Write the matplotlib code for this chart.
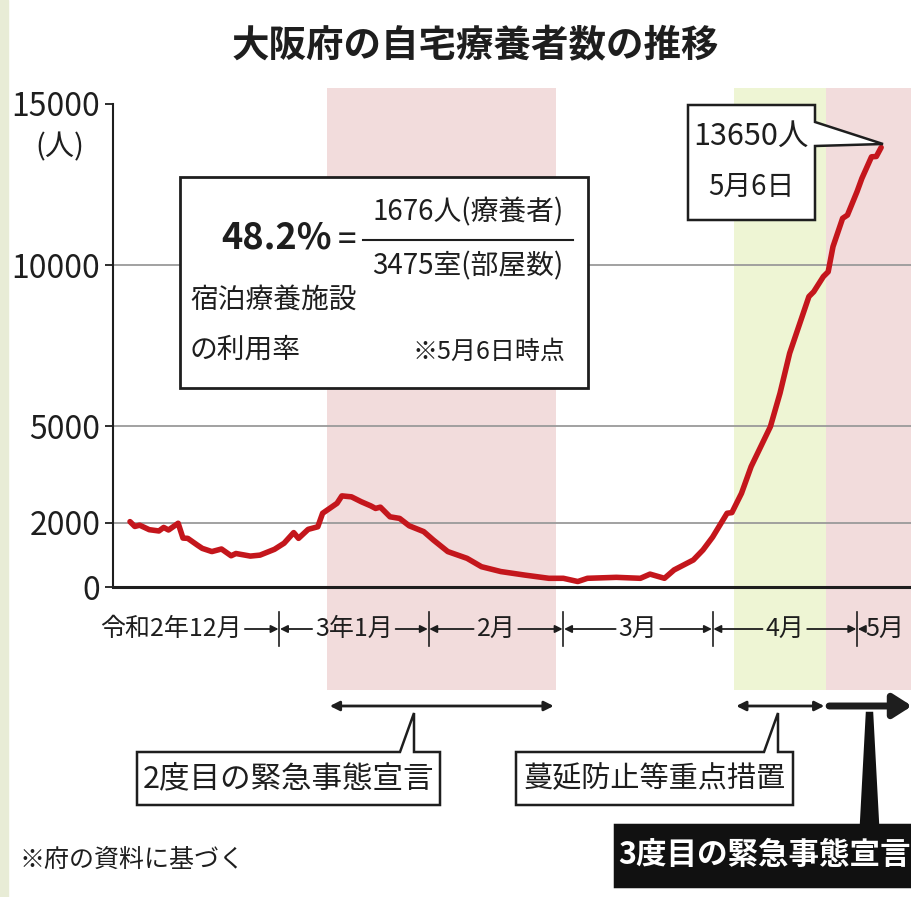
import matplotlib
matplotlib.use("Agg")
import matplotlib.pyplot as plt
import matplotlib.transforms as mtransforms
from matplotlib.patches import Rectangle, Polygon
from matplotlib.lines import Line2D

plt.rcParams['font.family'] = ['Noto Sans CJK JP', 'DejaVu Sans']

# 令和2年12月1日からの日数と自宅療養者数
days = [0, 1, 2, 4, 6, 7, 8, 10, 11, 12, 14, 15, 17, 19, 21, 22, 25, 27, 30,
        32, 34, 35, 37, 39, 40, 43, 44, 46, 48, 50, 51, 52, 54, 56, 58, 61,
        63, 66, 70, 73, 77, 82, 87, 90, 93, 95, 101, 106, 108, 111, 113, 117,
        119, 121, 124, 125, 127, 129, 132, 133, 135, 137, 141, 142, 144, 145,
        146, 148, 149, 151, 152, 154, 155, 156]
patients = [2030, 1880, 1920, 1780, 1740, 1850, 1770, 1980, 1520, 1510, 1300,
            1200, 1100, 1180, 970, 1040, 960, 990, 1170, 1360, 1690, 1510,
            1790, 1870, 2290, 2600, 2830, 2800, 2650, 2520, 2440, 2480, 2180,
            2130, 1900, 1720, 1460, 1100, 890, 630, 480, 370, 270, 270, 170,
            270, 300, 270, 400, 270, 530, 840, 1150, 1550, 2290, 2310, 2910,
            3740, 4670, 4980, 6020, 7260, 9020, 9170, 9640, 9790, 10570, 11450,
            11550, 12280, 12690, 13360, 13370, 13650]

month_starts = [0, 31, 62, 90, 121, 151]
month_labels = ["令和2年12月", "3年1月", "2月", "3月", "4月", "5月"]
y_ticks = [0, 2000, 5000, 10000, 15000]
grid_values = [2000, 5000, 10000]

emergency2 = (41, 88.5)
priority = (125.5, 144.5)
emergency3_start = 144.5

W, H = 912, 897
PINK = '#f2dcdc'
GREEN = '#eef5d4'
INK = '#1e1e1e'


def fx(x):
    return x / W


def fy(y):
    return 1 - y / H


fig = plt.figure(figsize=(W / 100, H / 100), dpi=100)
fig.add_artist(Rectangle((0, 0), fx(8), 1, transform=fig.transFigure,
                         color='#e8ecd6', zorder=0))

ax = fig.add_axes([fx(113), fy(587), fx(912) - fx(113), fy(104) - fy(587)])
ax.patch.set_alpha(0)
x_right = (912 - 130) / 4.815
ax.set_xlim(-3.53, x_right)
ax.set_ylim(0, 15000)

# 網掛け（グラフの上下にはみ出す）
ax.axvspan(*emergency2, ymin=-0.213, ymax=1.033, color=PINK, lw=0,
           zorder=0, clip_on=False)
ax.axvspan(*priority, ymin=-0.213, ymax=1.033, color=GREEN, lw=0,
           zorder=0, clip_on=False)
ax.axvspan(emergency3_start, x_right, ymin=-0.213, ymax=1.033, color=PINK,
           lw=0, zorder=0, clip_on=False)

for v in grid_values:
    ax.axhline(v, color='#9a9a9a', lw=1.3, zorder=1)

ax.plot(days, patients, color='#c4161c', lw=4, solid_joinstyle='round',
        solid_capstyle='round', zorder=3)

ax.spines['top'].set_visible(False)
ax.spines['right'].set_visible(False)
ax.spines['left'].set_linewidth(1.5)
ax.spines['bottom'].set_linewidth(2.2)
ax.spines['left'].set_color(INK)
ax.spines['bottom'].set_color(INK)
ax.set_xticks([])
ax.set_yticks(y_ticks)
ax.set_yticklabels([str(v) for v in y_ticks])
ax.tick_params(axis='y', length=6, width=1.3, pad=3, labelsize=23,
               colors=INK)
fig.text(fx(60), fy(147), "(人)", ha='center', va='center', fontsize=21,
         color=INK)

fig.text(fx(475), fy(46), "大阪府の自宅療養者数の推移", ha='center',
         va='center', fontsize=27, weight='bold', color=INK)

# 月のラベル
trans = mtransforms.blended_transform_factory(ax.transData, fig.transFigure)
y_lab = fy(629)
for b in month_starts[1:]:
    ax.plot([b, b], [fy(612), fy(646)], transform=trans, color=INK, lw=1.2,
            clip_on=False)

texts = []
for i, lab in enumerate(month_labels):
    if i == 0:
        t = ax.text((242 - 130) / 4.815, y_lab, lab, ha='right', va='center',
                    transform=trans, fontsize=18, color=INK)
    elif i == len(month_labels) - 1:
        t = ax.text(month_starts[i] + 1.8, y_lab, lab, ha='left',
                    va='center', transform=trans, fontsize=18,
                    color=INK, clip_on=False)
    else:
        mid = (month_starts[i] + month_starts[i + 1]) / 2
        t = ax.text(mid, y_lab, lab, ha='center', va='center',
                    transform=trans, fontsize=18, color=INK)
    texts.append(t)

fig.canvas.draw()
inv = ax.transData.inverted()
arrow_kw = dict(arrowstyle='-|>', lw=1.3, color=INK, mutation_scale=11,
                shrinkA=0, shrinkB=0.5)
for i, t in enumerate(texts):
    bb = t.get_window_extent()
    x0 = inv.transform((bb.x0, bb.y0))[0]
    x1 = inv.transform((bb.x1, bb.y0))[0]
    if i < len(texts) - 1:
        ax.annotate("", xy=(month_starts[i + 1], y_lab),
                    xytext=(x1 + 0.6, y_lab), xycoords=trans,
                    textcoords=trans, arrowprops=arrow_kw)
    if i > 0:
        ax.annotate("", xy=(month_starts[i], y_lab),
                    xytext=(x0 - 0.6, y_lab), xycoords=trans,
                    textcoords=trans, arrowprops=arrow_kw)

# 期間の矢印
y_arr = fy(706)
ax.annotate("", xy=(emergency2[1] - 0.5, y_arr), xytext=(emergency2[0] + 0.5, y_arr),
            xycoords=trans, textcoords=trans,
            arrowprops=dict(arrowstyle='<|-|>', lw=2, color=INK,
                            mutation_scale=14, shrinkA=0, shrinkB=0))
ax.annotate("", xy=(priority[1] - 0.3, y_arr), xytext=(priority[0] + 0.4, y_arr),
            xycoords=trans, textcoords=trans,
            arrowprops=dict(arrowstyle='<|-|>', lw=2, color=INK,
                            mutation_scale=14, shrinkA=0, shrinkB=0))
ax.annotate("", xy=(x_right, y_arr), xytext=(emergency3_start + 0.7, y_arr),
            xycoords=trans, textcoords=trans,
            arrowprops=dict(arrowstyle='-|>,head_length=0.55,head_width=0.35',
                            lw=5, color=INK, mutation_scale=20,
                            shrinkA=0, shrinkB=0))


def callout(pts, fc='white', ec=INK, lw=1.8):
    poly = Polygon([(fx(x), fy(y)) for x, y in pts], closed=True,
                   transform=fig.transFigure, fc=fc, ec=ec, lw=lw, zorder=5)
    fig.add_artist(poly)


# 利用率の囲み
callout([(180, 177), (588, 177), (588, 388), (180, 388)], lw=2)
fig.text(fx(332), fy(238), "48.2%", ha='right', va='center', fontsize=26,
         weight='bold', color=INK, zorder=6)
fig.text(fx(347), fy(240), "=", ha='center', va='center', fontsize=24,
         color=INK, zorder=6)
fig.text(fx(468), fy(212), "1676人(療養者)", ha='center', va='center',
         fontsize=20, color=INK, zorder=6)
fig.add_artist(Line2D([fx(363), fx(573)], [fy(240), fy(240)],
                      transform=fig.transFigure, color=INK, lw=1.5, zorder=6))
fig.text(fx(468), fy(266), "3475室(部屋数)", ha='center', va='center',
         fontsize=20, color=INK, zorder=6)
fig.text(fx(190), fy(300), "宿泊療養施設", ha='left', va='center',
         fontsize=20, color=INK, zorder=6)
fig.text(fx(190), fy(350), "の利用率", ha='left', va='center',
         fontsize=20, color=INK, zorder=6)
fig.text(fx(565), fy(352), "※5月6日時点", ha='right', va='center',
         fontsize=18, color=INK, zorder=6)

# 最新値の吹き出し
callout([(688, 105), (815, 105), (815, 122), (883, 144), (815, 146),
         (815, 220), (688, 220)])
fig.text(fx(751), fy(136), "13650人", ha='center', va='center', fontsize=22,
         color=INK, zorder=6)
fig.text(fx(751), fy(187), "5月6日", ha='center', va='center', fontsize=20,
         color=INK, zorder=6)

# 下の吹き出し
callout([(137, 752), (400, 752), (414, 713), (414, 752), (440, 752),
         (440, 805), (137, 805)])
fig.text(fx(289), fy(779), "2度目の緊急事態宣言", ha='center', va='center',
         fontsize=22, color=INK, zorder=6)
callout([(516, 752), (764, 752), (778, 713), (778, 752), (793, 752),
         (793, 805), (516, 805)])
fig.text(fx(655), fy(779), "蔓延防止等重点措置", ha='center', va='center',
         fontsize=21, color=INK, zorder=6)
callout([(615, 825), (861, 825), (867, 713), (872, 713), (878, 825),
         (912, 825), (912, 887), (615, 887)], fc='#111111', ec='#111111')
fig.text(fx(764), fy(855), "3度目の緊急事態宣言", ha='center', va='center',
         fontsize=22, weight='bold', color='white', zorder=6)

fig.text(fx(20), fy(860), "※府の資料に基づく", ha='left', va='center',
         fontsize=18, color=INK)

fig.savefig("out.png", dpi=100)
